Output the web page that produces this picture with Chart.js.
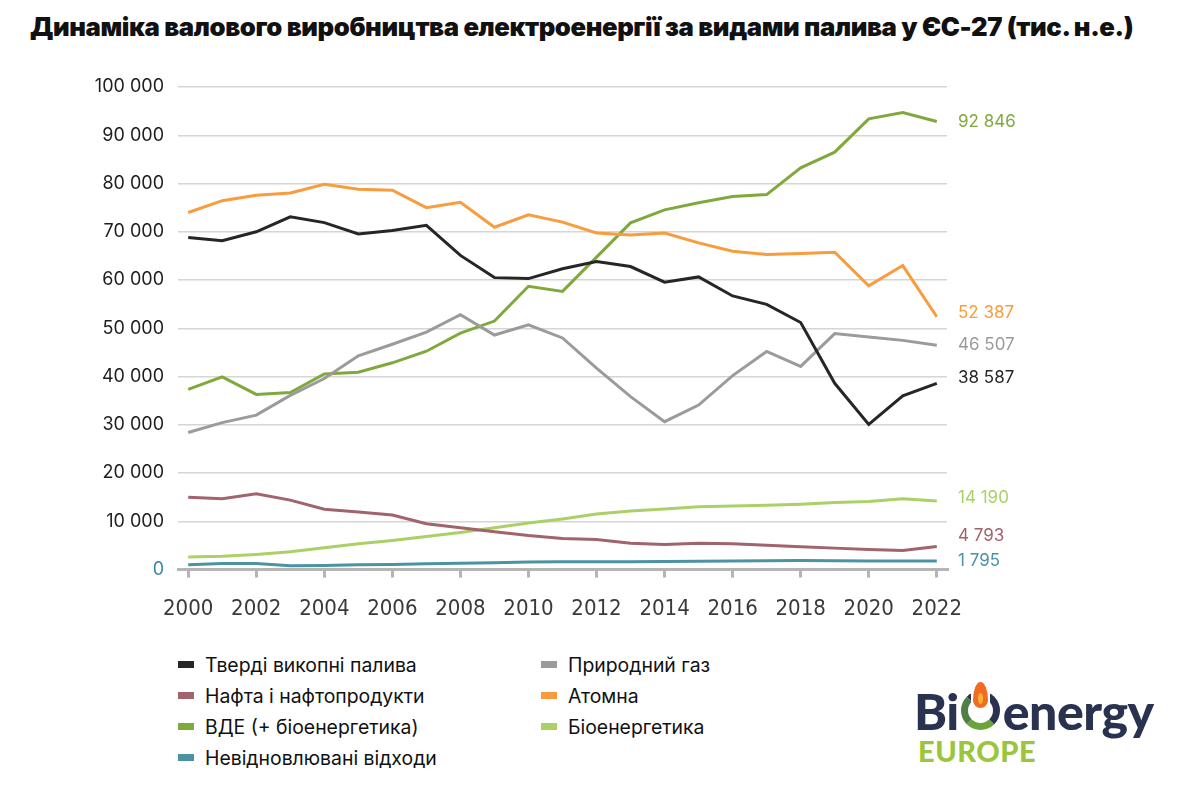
<!DOCTYPE html>
<html lang="uk">
<head>
<meta charset="utf-8">
<script src="https://cdn.jsdelivr.net/npm/chart.js@4.4.1/dist/chart.umd.min.js"></script>
<style>
  html, body { margin: 0; padding: 0; background: #fff; }
  #page { position: relative; width: 1180px; height: 792px; overflow: hidden; font-family: Inter, "Noto Sans", sans-serif; }
  #title { position: absolute; left: 30px; top: 11px; font-family: Inter, sans-serif; font-weight: 900; font-size: 23px; color: #111; white-space: nowrap; letter-spacing: -0.4px; }
  #chartBox { position: absolute; left: 0; top: 0; width: 1180px; height: 640px; }
  #legend { position: absolute; left: 178px; top: 649px; display: grid; grid-template-columns: 363px 300px; grid-auto-rows: 31px; }
  .item { display: flex; align-items: center; font-size: 19.4px; color: #111; }
  .item i { display: inline-block; width: 16px; height: 7px; margin-right: 11px; }
  #logo { position: absolute; left: 914px; top: 684px; color: #29324f; }
  #logo .big { font-family: Lato, Inter, sans-serif; font-weight: 900; font-size: 50px; line-height: 54px; letter-spacing: -0.5px; display: flex; align-items: flex-end; }
  #logo .ring { position: relative; display: inline-block; width: 25px; height: 25px; border: 7px solid #29324f; border-bottom-color: #6aa43a; border-left-color: #4f7f45; border-radius: 50%; margin: 0 3px 8px 2px; }
  #logo .ring::before { content: ""; position: absolute; left: 3px; top: -14px; width: 19px; height: 26px; background: #fff; }
  #logo .flame { position: absolute; left: 5px; top: -16px; width: 15px; height: 26px; background: #f26b21; border-radius: 50% 50% 50% 50% / 70% 70% 30% 30%; }
  #logo .flame::after { content: ""; position: absolute; left: 5px; top: 11px; width: 5px; height: 11px; background: #fbb03b; border-radius: 50%; }
  #logo .small { font-family: Lato, Inter, sans-serif; font-weight: 900; font-size: 29px; line-height: 26px; color: #9bc53d; margin-left: 4px; letter-spacing: 0.5px; }
</style>
</head>
<body>
<div id="page">
  <div id="title">Динаміка валового виробництва електроенергії за видами палива у ЄС-27 (тис. н.е.)</div>
  <div id="chartBox"><canvas id="chart"></canvas></div>
  <div id="legend"></div>
  <div id="logo">
    <div class="big">Bi<span class="ring"><span class="flame"></span></span>energy</div>
    <div class="small">EUROPE</div>
  </div>
</div>
<script>
// Роки (категорії осі X)
const years = [2000, 2001, 2002, 2003, 2004, 2005, 2006, 2007, 2008, 2009, 2010, 2011,
  2012, 2013, 2014, 2015, 2016, 2017, 2018, 2019, 2020, 2021, 2022];

// Назви рядів (у порядку легенди)
const seriesNames = ['Тверді викопні палива', 'Природний газ', 'Нафта і нафтопродукти', 'Атомна',
  'ВДЕ (+ біоенергетика)', 'Біоенергетика', 'Невідновлювані відходи'];

// Значення, тис. н.е.
const solidFossil = [68800, 68150, 70000, 73100, 71900, 69550, 70250, 71350, 65100, 60500, 60300, 62350,
  63850, 62800, 59550, 60650, 56700, 54950, 51200, 38600, 30100, 36000, 38587];
const naturalGas = [28400, 30450, 32000, 36100, 39600, 44300, 46700, 49200, 52800, 48600, 50700, 48000,
  41750, 35850, 30650, 34100, 40200, 45200, 42100, 48900, 48200, 47500, 46507];
const oil = [15000, 14700, 15700, 14400, 12500, 11950, 11300, 9500, 8650, 7850, 7050, 6450,
  6250, 5450, 5200, 5450, 5350, 5050, 4750, 4450, 4150, 3950, 4793];
const nuclear = [74000, 76450, 77550, 78050, 79850, 78800, 78600, 75000, 76100, 70950, 73500, 72000,
  69750, 69350, 69750, 67700, 65950, 65300, 65500, 65750, 58800, 63000, 52387];
const renewables = [37350, 39950, 36300, 36700, 40550, 40900, 42850, 45250, 49000, 51500, 58700, 57650,
  64750, 71850, 74550, 76000, 77300, 77700, 83250, 86500, 93400, 94700, 92846];
const bioenergy = [2600, 2750, 3150, 3700, 4550, 5350, 6050, 6850, 7700, 8650, 9650, 10500,
  11500, 12150, 12550, 13000, 13200, 13350, 13550, 13900, 14100, 14700, 14190];
const waste = [1000, 1250, 1250, 800, 850, 1000, 1050, 1200, 1300, 1400, 1550, 1620,
  1620, 1650, 1680, 1750, 1800, 1820, 1870, 1850, 1800, 1800, 1795];

// Поділки осі Y
const yTicks = [0, 10000, 20000, 30000, 40000, 50000, 60000, 70000, 80000, 90000, 100000];

const seriesValues = [solidFossil, naturalGas, oil, nuclear, renewables, bioenergy, waste];
const colors = ['#262626', '#9b9b9b', '#a1636c', '#f89c3d', '#80a93d', '#abd066', '#4b93a3'];
// зсув підписів праворуч, щоб не накладались
const labelShift = [-5, 0, -11, -4, 0, -3, 0];

// Формат з пробілом між тисячами
const fmt = v => String(v).replace(/\B(?=(\d{3})+(?!\d))/g, ' ');

// Плагін: підписи останніх значень праворуч від ліній
const endLabels = {
  id: 'endLabels',
  afterDatasetsDraw(chart) {
    const { ctx, scales } = chart;
    ctx.save();
    ctx.font = '17px Inter, sans-serif';
    ctx.textBaseline = 'middle';
    ctx.textAlign = 'left';
    chart.data.datasets.forEach((ds, i) => {
      const last = ds.data[ds.data.length - 1];
      const y = scales.y.getPixelForValue(last.y) + labelShift[i];
      ctx.fillStyle = colors[i];
      ctx.fillText(fmt(last.y), scales.x.right + 11, y);
    });
    ctx.restore();
  }
};

const datasets = seriesNames.map((name, i) => ({
  label: name,
  data: years.map((yr, j) => ({ x: yr, y: seriesValues[i][j] })),
  borderColor: colors[i],
  backgroundColor: colors[i],
  borderWidth: 3,
  pointRadius: 0,
  tension: 0,
  fill: false
}));

const chart = new Chart(document.getElementById('chart'), {
  type: 'line',
  data: { datasets },
  options: {
    responsive: true,
    maintainAspectRatio: false,
    animation: false,
    layout: { padding: { left: 88, right: 233, top: 87, bottom: 0 } },
    plugins: { legend: { display: false }, tooltip: { enabled: false }, title: { display: false } },
    scales: {
      x: {
        type: 'linear',
        min: 1999.7,
        max: 2022.3,
        afterBuildTicks: axis => { axis.ticks = years.filter(y => y % 2 === 0).map(v => ({ value: v })); },
        ticks: {
          callback: v => String(v),
          color: '#3a3a3a',
          padding: 18,
          maxRotation: 0,
          font: { family: '"Liberation Sans Narrow", "DejaVu Sans Condensed", sans-serif', size: 22 }
        },
        grid: { drawOnChartArea: false, drawTicks: true, tickLength: 8, tickColor: '#b5b5b5', lineWidth: 3 },
        border: { display: true, color: '#b5b5b5', width: 3 }
      },
      y: {
        min: 0,
        max: 100000,
        afterBuildTicks: axis => { axis.ticks = yTicks.map(v => ({ value: v })); },
        afterFit: scale => { scale.width = 90; },
        ticks: {
          callback: v => fmt(v),
          color: ctx => ctx.tick.value === 0 ? '#3f86a0' : '#1e1e1e',
          padding: 14,
          font: { family: 'Inter, sans-serif', size: 18 }
        },
        grid: { color: '#d6d6d6', lineWidth: 1.5, drawTicks: false },
        border: { display: false }
      }
    }
  },
  plugins: [endLabels]
});

// Легенда у два стовпці
const legend = document.getElementById('legend');
chart.data.datasets.forEach((ds, i) => {
  const item = document.createElement('div');
  item.className = 'item';
  item.innerHTML = `<i style="background:${colors[i]}"></i>${ds.label}`;
  legend.appendChild(item);
});

// Підганяємо ширину заголовка
const title = document.getElementById('title');
const w = title.getBoundingClientRect().width;
title.style.fontSize = (23 * 1100 / w).toFixed(2) + 'px';
</script>
</body>
</html>
